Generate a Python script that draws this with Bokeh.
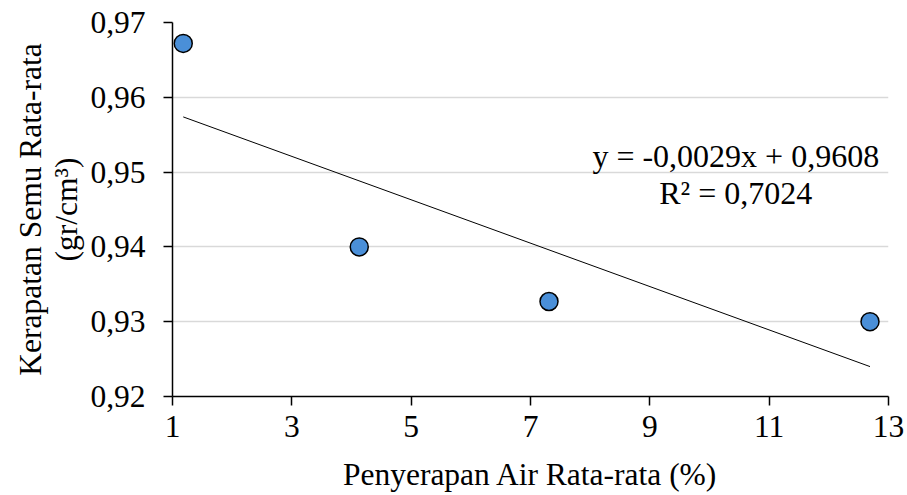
from bokeh.plotting import figure
from bokeh.models import (FixedTicker, CustomJSTickFormatter, Label, Range1d,
                          ColumnDataSource)
from bokeh.embed import file_html
from bokeh.resources import INLINE

# ---- data ----
absorption = [1.18, 4.13, 7.31, 12.69]          # Penyerapan Air Rata-rata (%)
density = [0.9672, 0.9400, 0.9327, 0.9300]      # Kerapatan Semu Rata-rata (gr/cm3)
slope = -0.0029
intercept = 0.9608
r_squared = 0.7024
x_ticks = [1, 3, 5, 7, 9, 11, 13]
y_ticks = [0.92, 0.93, 0.94, 0.95, 0.96, 0.97]

FONT = "Liberation Serif"
FS = "31.5px"

p = figure(width=905, height=495, output_backend="svg", toolbar_location=None,
           x_range=Range1d(1, 13), y_range=Range1d(0.92, 0.97),
           min_border_left=172, min_border_right=17, min_border_top=22,
           min_border_bottom=99)
p.outline_line_color = None
p.background_fill_color = "white"
p.border_fill_color = "white"

# grid
p.xgrid.visible = False
p.ygrid.grid_line_color = "#d9d9d9"
p.ygrid.grid_line_width = 1.3
p.ygrid.ticker = FixedTicker(ticks=y_ticks)

# axes
for ax in (p.xaxis[0], p.yaxis[0]):
    ax.axis_line_color = "black"
    ax.axis_line_width = 1.5
    ax.major_tick_line_color = "black"
    ax.major_tick_line_width = 1.5
    ax.major_tick_out = 9
    ax.major_tick_in = 0
    ax.minor_tick_line_color = None
    ax.major_label_text_font = FONT
    ax.major_label_text_font_size = FS
    ax.major_label_text_color = "black"
    ax.axis_label_text_font = FONT
    ax.axis_label_text_font_size = FS
    ax.axis_label_text_font_style = "normal"
    ax.axis_label_text_color = "black"

p.xaxis.ticker = FixedTicker(ticks=x_ticks)
p.yaxis.ticker = FixedTicker(ticks=y_ticks)
p.yaxis.formatter = CustomJSTickFormatter(code="return tick.toFixed(2).replace('.', ',');")
p.xaxis.major_label_standoff = 10
p.yaxis.major_label_standoff = 18

p.xaxis.axis_label = "Penyerapan Air Rata-rata (%)"
p.xaxis.axis_label_standoff = 17
p.yaxis.axis_label = "Kerapatan Semu Rata-rata\n(gr/cm³)"
p.yaxis.axis_label_standoff = 3
p.yaxis.axis_label_text_line_height = 1.05

# trendline from regression coefficients
x0, x1 = min(absorption), max(absorption)
p.line([x0, x1], [slope * x0 + intercept, slope * x1 + intercept],
       line_color="black", line_width=1)

# points
src = ColumnDataSource(dict(x=absorption, y=density))
p.scatter("x", "y", source=src, size=18, fill_color="#4a8fd8",
          line_color="black", line_width=1.5)

# regression equation
eq1 = "y = " + f"{slope:.4f}".replace(".", ",") + "x + " + f"{intercept:.4f}".replace(".", ",")
eq2 = "R² = " + f"{r_squared:.4f}".replace(".", ",")
for txt, yy in ((eq1, 0.95218), (eq2, 0.94727)):
    p.add_layout(Label(x=10.44, y=yy, text=txt, text_font=FONT, text_font_size="32px",
                       text_align="center", text_baseline="alphabetic",
                       text_color="black"))

open("out.html", "w").write(file_html(p, INLINE))
